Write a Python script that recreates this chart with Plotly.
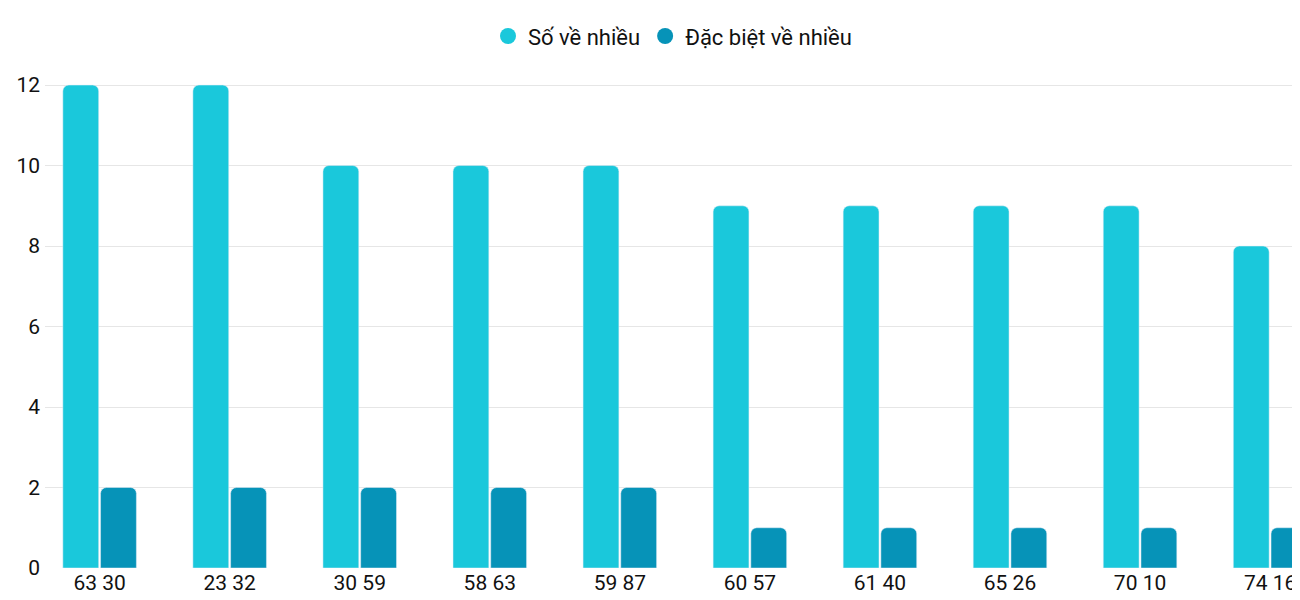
import plotly.graph_objects as go

categories = ["63 30", "23 32", "30 59", "58 63", "59 87", "60 57", "61 40", "65 26", "70 10", "74 16"]
so_ve_nhieu = [12, 12, 10, 10, 10, 9, 9, 9, 9, 8]
dac_biet_ve_nhieu = [2, 2, 2, 2, 2, 1, 1, 1, 1, 1]
series_names = ["Số về nhiều", "Đặc biệt về nhiều"]
colors = ["#1ac8db", "#0693b8"]

fig = go.Figure()
for name, vals, col in zip(series_names, [so_ve_nhieu, dac_biet_ve_nhieu], colors):
    fig.add_trace(go.Bar(x=categories, y=vals, name=name, marker_color=col, showlegend=False))
    # circle legend marker
    fig.add_trace(go.Scatter(x=[None], y=[None], mode="markers", name=name,
                             marker=dict(color=col, size=26, symbol="circle")))

fig.update_layout(
    width=1300, height=600,
    margin=dict(l=30, r=8, t=65, b=40),
    plot_bgcolor="white", paper_bgcolor="white",
    font=dict(family="Roboto", size=21, color="#111"),
    barmode="group", bargap=0.42, bargroupgap=0.05, barcornerradius=6,
    legend=dict(orientation="h", x=0.5, xanchor="center", yref="container", y=0.953,
                yanchor="middle", font=dict(size=22), itemsizing="trace"),
)
fig.update_xaxes(range=[-0.42, 9.23], showgrid=False, ticks="", showline=False)
fig.update_yaxes(range=[0, 12.3], dtick=2, gridcolor="#e6e6e6", zeroline=False, ticks="",
                 ticklabelstandoff=4)
fig.write_html("out.html")
